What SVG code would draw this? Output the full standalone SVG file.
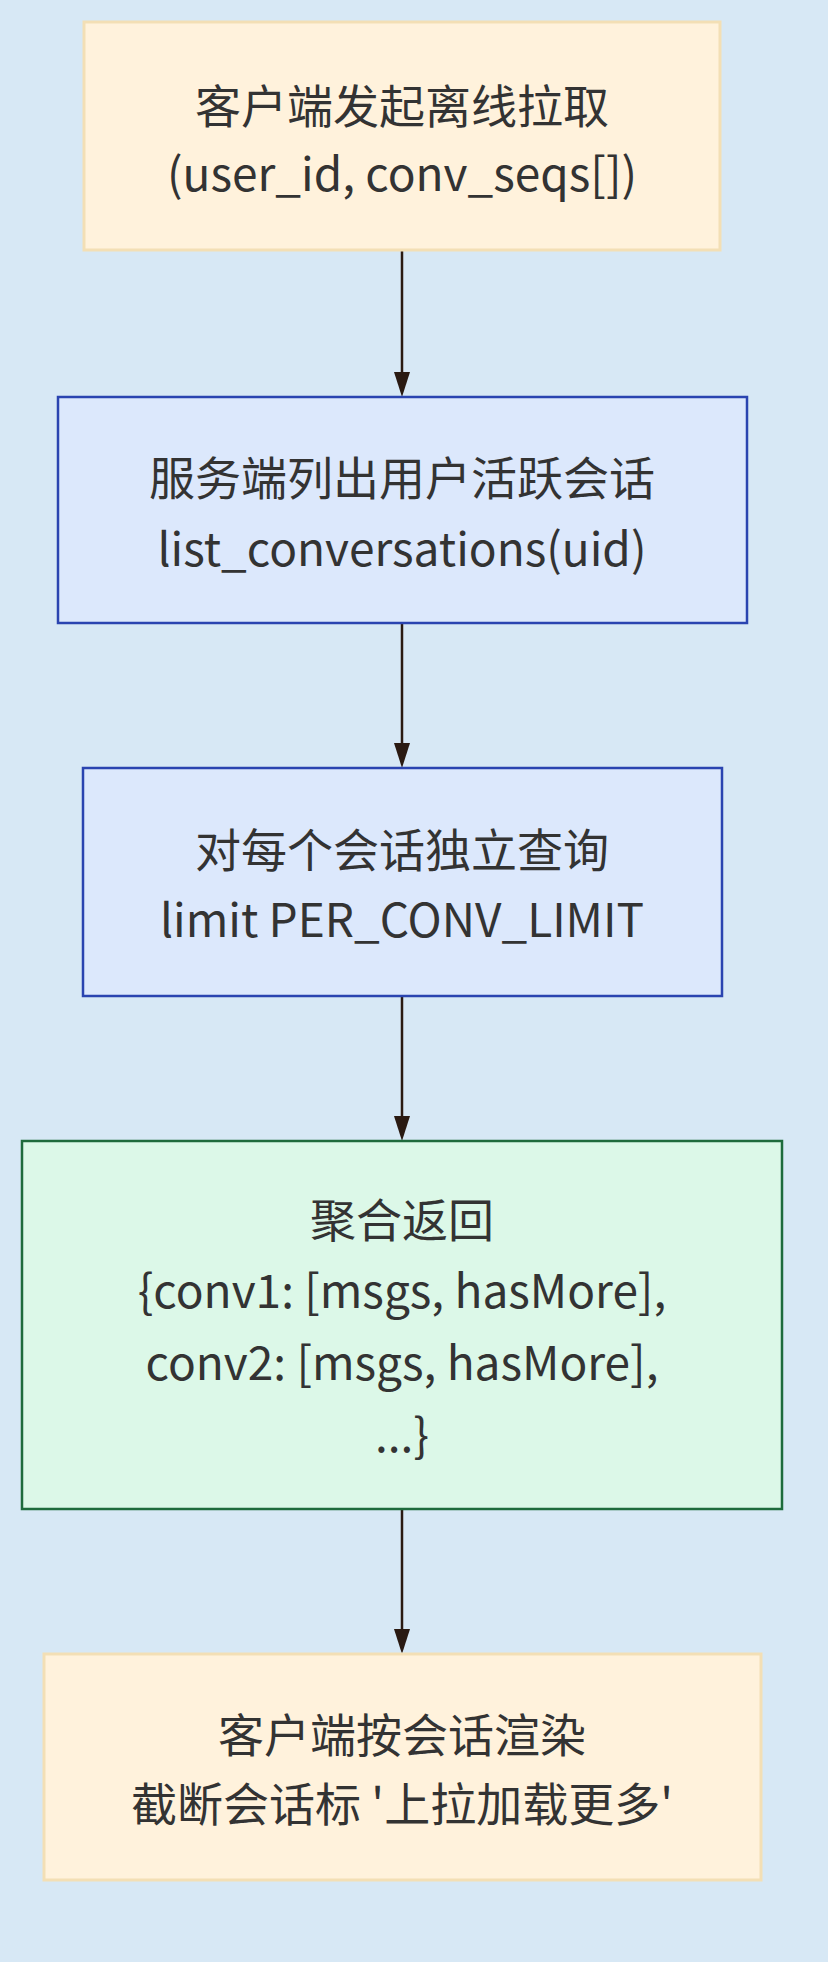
<svg xmlns="http://www.w3.org/2000/svg" width="828" height="1962" viewBox="0 0 828 1962">
<style>
text{font-family:"Noto Sans CJK SC","Open Sans",sans-serif;font-size:46px;fill:#333;text-anchor:middle;dominant-baseline:central}
.w{fill:#fff2dc;stroke:#f3dfb5;stroke-width:3}
.b{fill:#dce8fc;stroke:#2a44b0;stroke-width:2.5}
.g{fill:#dcf8e8;stroke:#1e6b3c;stroke-width:2.5}
.c{stroke:#2a1a12;stroke-width:2.5;fill:none}
.h{fill:#2a1a12}
</style>
<rect width="828" height="1962" fill="#d7e8f5"/>
<g id="connectors">
<path class="c" d="M402,250V380"/><path class="h" d="M394,372L402,397L410,372z"/>
<path class="c" d="M402,623V750"/><path class="h" d="M394,743L402,768L410,743z"/>
<path class="c" d="M402,996V1124"/><path class="h" d="M394,1116L402,1141L410,1116z"/>
<path class="c" d="M402,1509V1636"/><path class="h" d="M394,1629L402,1654L410,1629z"/>
</g>
<g id="n1"><rect class="w" x="84" y="22" width="636" height="228"/><text x="402" y="103">客户端发起离线拉取</text><text x="402" y="171">(user_id, conv_seqs[])</text></g>
<g id="n2"><rect class="b" x="58" y="397" width="689" height="226"/><text x="402" y="475">服务端列出用户活跃会话</text><text x="402" y="546">list_conversations(uid)</text></g>
<g id="n3"><rect class="b" x="83" y="768" width="639" height="228"/><text x="402" y="847">对每个会话独立查询</text><text x="402" y="917">limit PER_CONV_LIMIT</text></g>
<g id="n4"><rect class="g" x="22" y="1141" width="760" height="368"/><text x="402" y="1217">聚合返回</text><text x="402" y="1288">{conv1: [msgs, hasMore],</text><text x="402" y="1360">conv2: [msgs, hasMore],</text><text x="402" y="1432">...}</text></g>
<g id="n5"><rect class="w" x="44" y="1654" width="717" height="226"/><text x="402" y="1732">客户端按会话渲染</text><text x="402" y="1801">截断会话标 '上拉加载更多'</text></g>
</svg>
